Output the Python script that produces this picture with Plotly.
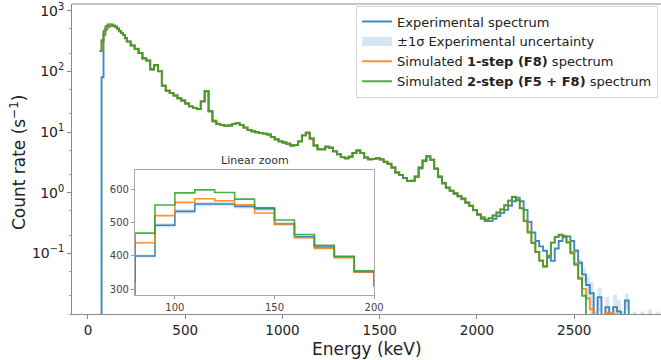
import plotly.graph_objects as go

# ---------------- data ----------------
# bin left edges (keV): 10 keV bins 60-200, then 20 keV bins 200-2960
edges_fine = list(range(60, 200, 10))
edges_coarse = list(range(200, 2960, 20))
bin_left = edges_fine + edges_coarse
last_edge = 2960

ZERO = 1e-4  # empty bin (drawn below axis range)

exp_rate = [
    ZERO, 80, 400, 493, 535, 557, 557, 550, 543, 497, 458, 427, 397, 352,
    309, 266, 235, 200, 163, 150, 107, 126, 100, 58, 48, 44, 40, 36, 33, 29.5,
    26.5, 25, 24, 32, 47, 22, 15, 13.5, 13.1, 12.7, 12.8, 13.6, 14, 13.1, 11.8,
    10.8, 10.3, 9.9, 9.6, 9.4, 9.1, 8.3, 7.6, 7.0, 6.7, 6.4, 6.0, 6.1, 7.0, 8.8,
    9.7, 7.8, 6.0, 5.2, 5.2, 5.7, 5.5, 4.8, 4.3, 3.85, 3.7, 3.9, 4.5, 4.95, 4.5,
    3.8, 3.55, 3.6, 3.7, 3.5, 3.2, 2.95, 2.6, 2.15, 1.95, 1.75, 1.55, 1.55, 1.82,
    2.5, 3.3, 3.95, 3.45, 2.45, 1.8, 1.42, 1.2, 1.06, 0.95, 0.86, 0.78, 0.68, 0.6,
    0.51, 0.43, 0.37, 0.34, 0.34, 0.37, 0.41, 0.46, 0.52, 0.61, 0.72, 0.83, 0.72,
    0.52, 0.33, 0.22, 0.16, 0.13, 0.11, 0.085, 0.075, 0.12, 0.16, 0.185, 0.19,
    0.16, 0.11, 0.07, 0.045, 0.03, 0.022, ZERO, 0.019, ZERO, 0.013, ZERO, 0.013,
    0.011, ZERO, 0.0167, ZERO, ZERO, ZERO, ZERO, ZERO, ZERO, ZERO, ZERO, ZERO, ZERO,
]

sim1_rate = [
    216, 330, 440, 522, 562, 573, 567, 555, 530, 497, 455, 423, 395, 352,
    309, 266, 235, 200, 163, 150, 107, 126, 100, 58, 48, 44, 40, 36, 33, 29.5,
    26.5, 25, 24, 32, 47, 22, 15.5, 13.8, 13.1, 12.7, 12.8, 13.6, 14, 13.1, 11.8,
    10.8, 10.3, 9.9, 9.6, 9.4, 9.1, 8.3, 7.6, 7.0, 6.7, 6.4, 6.0, 6.1, 7.0, 8.8,
    9.7, 7.8, 6.0, 5.2, 5.2, 5.7, 5.5, 4.8, 4.3, 3.85, 3.7, 3.9, 4.5, 4.95, 4.5,
    3.8, 3.55, 3.6, 3.7, 3.55, 3.25, 3.0, 2.6, 2.15, 1.95, 1.75, 1.55, 1.58, 1.85,
    2.6, 3.4, 4.0, 3.5, 2.5, 1.85, 1.45, 1.22, 1.08, 0.98, 0.88, 0.8, 0.69, 0.61,
    0.52, 0.44, 0.39, 0.36, 0.38, 0.42, 0.47, 0.53, 0.62, 0.74, 0.86, 0.76, 0.56,
    0.35, 0.23, 0.15, 0.106, 0.077, 0.062, 0.092, 0.15, 0.188, 0.205, 0.195, 0.155,
    0.105, 0.068, 0.04, 0.026, 0.018, 0.012, 0.008, 0.007, 0.0095, 0.0105, 0.0105,
    0.0098, 0.008, ZERO, ZERO, ZERO, ZERO, ZERO, ZERO, ZERO, ZERO, ZERO, ZERO, ZERO,
]

sim2_rate = [
    216, 320, 469, 554, 591, 600, 592, 572, 546, 509, 465, 432, 399, 355,
    312, 268, 236, 201, 164, 151, 108, 127, 101, 58, 48, 44, 40, 36, 33, 29.5,
    26.5, 25, 24, 32, 47, 22, 15, 13.5, 13.1, 12.7, 12.8, 13.6, 14, 13.1, 11.8,
    10.8, 10.3, 9.9, 9.6, 9.4, 9.1, 8.3, 7.6, 7.0, 6.7, 6.4, 6.0, 6.1, 7.0, 8.8,
    9.7, 7.8, 6.0, 5.2, 5.2, 5.7, 5.5, 4.8, 4.3, 3.85, 3.7, 3.9, 4.5, 4.95, 4.5,
    3.8, 3.55, 3.6, 3.7, 3.55, 3.25, 3.0, 2.6, 2.15, 1.95, 1.75, 1.55, 1.58, 1.85,
    2.6, 3.4, 4.0, 3.5, 2.5, 1.85, 1.45, 1.22, 1.08, 0.98, 0.88, 0.8, 0.69, 0.61,
    0.52, 0.44, 0.39, 0.36, 0.38, 0.42, 0.47, 0.53, 0.62, 0.74, 0.85, 0.75, 0.55,
    0.34, 0.22, 0.148, 0.105, 0.075, 0.06, 0.09, 0.15, 0.185, 0.2, 0.19, 0.15,
    0.1, 0.065, 0.038, 0.02, ZERO, ZERO, ZERO, ZERO, ZERO, ZERO, ZERO,
    ZERO, ZERO, ZERO, ZERO, ZERO, ZERO, ZERO, ZERO, ZERO, ZERO, ZERO, ZERO, ZERO,
]

# experimental 1-sigma uncertainty: relative in the bulk, absolute in the tail
exp_rel_unc = 0.012
tail_start = 2500
exp_sigma_tail = [0.01, 0.01, 0.012, 0.012, 0.012, 0.011, 0.008, 0.009, 0.006,
                  0.009, 0.008, 0.006, 0.011, 0.005, 0.008, 0.011, 0.005, 0.011,
                  0.005, 0.012, 0.005, 0.011, 0.005]

x_ticks = [0, 500, 1000, 1500, 2000, 2500]
y_ticks = [0.1, 1, 10, 100, 1000]
y_ticktext = ["10<sup>−1</sup>", "10<sup>0</sup>", "10<sup>1</sup>",
              "10<sup>2</sup>", "10<sup>3</sup>"]
inset_x_ticks = [100, 150, 200]
inset_y_ticks = [300, 400, 500, 600]

# ---------------- build ----------------
BLUE, ORANGE, GREEN = "#1f77b4", "#ff7f0e", "#2ca02c"
FONT = "DejaVu Sans"

xs = bin_left + [last_edge]


def step(vals):
    return list(vals) + [vals[-1]]


sigma = []
tail_i = 0
for e, v in zip(bin_left, exp_rate):
    if e >= tail_start:
        sigma.append(exp_sigma_tail[tail_i])
        tail_i += 1
    else:
        sigma.append(v * exp_rel_unc)
lower = [max(v - s, ZERO) if v > ZERO else ZERO for v, s in zip(exp_rate, sigma)]
upper = [(v if v > ZERO else 0) + s for v, s in zip(exp_rate, sigma)]

fig = go.Figure()

for axes, show in (("", True), ("2", False)):
    xa, ya = "x" + axes, "y" + axes
    lw = 1.9 if axes == "" else 1.6
    fig.add_trace(go.Scatter(x=xs, y=step(lower), mode="lines", line_shape="hv",
                             line=dict(width=0, color="rgba(31,119,180,0)"),
                             showlegend=False, hoverinfo="skip", xaxis=xa, yaxis=ya))
    fig.add_trace(go.Scatter(x=xs, y=step(upper), mode="lines", line_shape="hv",
                             line=dict(width=0, color="rgba(31,119,180,0)"),
                             fill="tonexty", fillcolor="rgba(31,119,180,0.18)",
                             name="±1σ Experimental uncertainty", showlegend=False,
                             hoverinfo="skip", xaxis=xa, yaxis=ya))
    fig.add_trace(go.Scatter(x=xs, y=step(exp_rate), mode="lines", line_shape="hv",
                             line=dict(width=lw, color=BLUE), opacity=0.85,
                             name="Experimental spectrum", showlegend=show,
                             legendrank=1, xaxis=xa, yaxis=ya))
    fig.add_trace(go.Scatter(x=xs, y=step(sim1_rate), mode="lines", line_shape="hv",
                             line=dict(width=lw, color=ORANGE), opacity=0.85,
                             name="Simulated <b>1-step (F8)</b> spectrum", showlegend=show,
                             legendrank=3, xaxis=xa, yaxis=ya))
    fig.add_trace(go.Scatter(x=xs, y=step(sim2_rate), mode="lines", line_shape="hv",
                             line=dict(width=lw, color=GREEN), opacity=0.85,
                             name="Simulated <b>2-step (F5 + F8)</b> spectrum",
                             showlegend=show, legendrank=4, xaxis=xa, yaxis=ya))

# legend proxy for the uncertainty patch
fig.add_trace(go.Scatter(x=[None], y=[None], mode="lines",
                         line=dict(width=9, color="rgba(31,119,180,0.18)"),
                         name="±1σ Experimental uncertainty", legendrank=2))

fig.update_layout(
    width=661, height=360,
    margin=dict(l=72, r=0, t=4, b=46),
    paper_bgcolor="white", plot_bgcolor="white",
    font=dict(family=FONT, color="#222"),
    legend=dict(x=0.995, xanchor="right", y=0.995, yanchor="top",
                traceorder="normal",
                bgcolor="white", bordercolor="#d8d8d8", borderwidth=1,
                font=dict(size=13, family=FONT, color="#222"),
                itemwidth=30, tracegroupgap=0),
    xaxis=dict(range=[-82, 2946], domain=[0, 1], tickvals=x_ticks,
               ticks="outside", ticklen=4, tickcolor="#888", showline=True,
               linecolor="#888", linewidth=1, showgrid=False, zeroline=False,
               tickfont=dict(size=13.5), automargin=False),
    yaxis=dict(type="log", range=[-2.0, 3.11], tickvals=y_ticks, ticktext=y_ticktext,
               ticks="outside", ticklen=4, tickcolor="#888", showline=True,
               linecolor="#888", linewidth=1, showgrid=False, zeroline=False,
               tickfont=dict(size=14), automargin=False,
               minor=dict(ticks="outside", ticklen=2, tickcolor="#aaa", showgrid=False)),
    xaxis2=dict(domain=[0.107, 0.513], anchor="y2", range=[80, 200],
                tickvals=inset_x_ticks, ticks="outside", ticklen=3, tickcolor="#999",
                showline=True, mirror=True, linecolor="#aaa", linewidth=1.2,
                showgrid=False, zeroline=False, automargin=False,
                tickfont=dict(size=10, color="#444")),
    yaxis2=dict(domain=[0.0613, 0.4645], anchor="x2", range=[282, 660],
                tickvals=inset_y_ticks, ticks="outside", ticklen=3, tickcolor="#999",
                showline=True, mirror=True, linecolor="#aaa", linewidth=1.2,
                showgrid=False, zeroline=False, automargin=False,
                tickfont=dict(size=10, color="#444")),
    shapes=[dict(type="line", xref="paper", yref="paper", x0=0, x1=1, y0=1, y1=1,
                 line=dict(color="#888", width=1))],
    annotations=[
        dict(text="Linear zoom", xref="paper", yref="paper",
             x=0.31, y=0.468, xanchor="center", yanchor="bottom",
             showarrow=False, font=dict(size=11, color="#333")),
        dict(text="Energy (keV)", xref="paper", yref="paper",
             x=0.5, y=-0.112, xanchor="center", yanchor="middle",
             showarrow=False, font=dict(size=17, color="#222")),
        dict(text="Count rate (s<sup>−1</sup>)", xref="paper", yref="paper",
             x=-0.0917, y=0.49, xanchor="center", yanchor="middle", textangle=-90,
             showarrow=False, font=dict(size=17, color="#222")),
    ],
)

fig.write_html("out.html", config={"displayModeBar": False},
               post_script="document.body.style.margin='0';"
                           "document.body.style.padding='0';")
